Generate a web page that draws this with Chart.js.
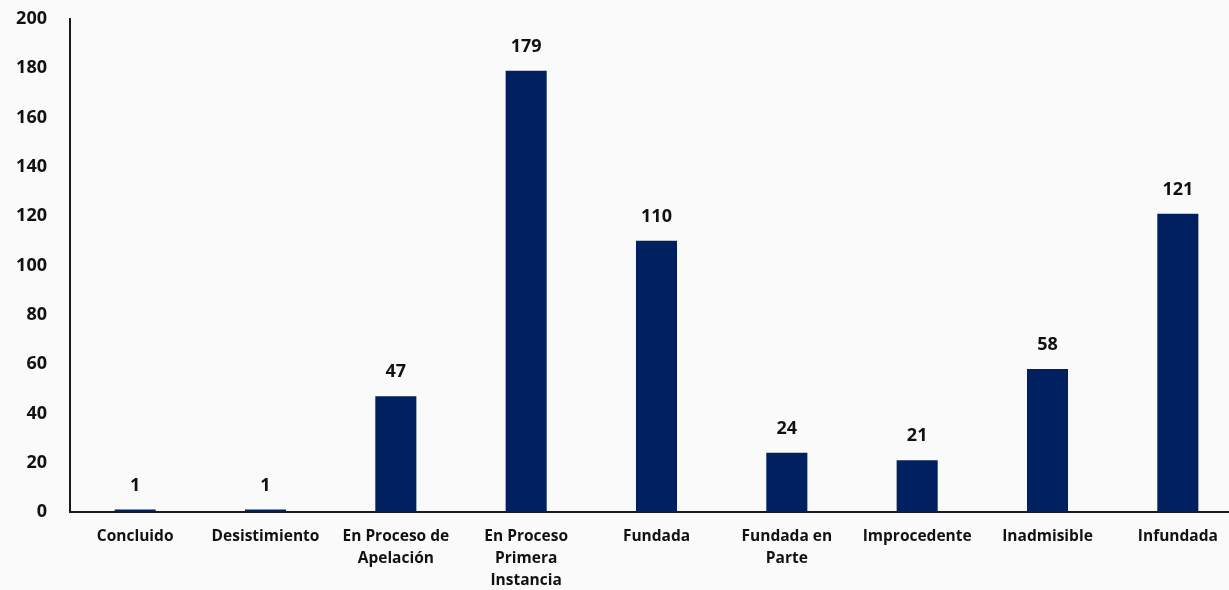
<!DOCTYPE html>
<html lang="es">
<head>
    <meta charset="UTF-8" />
    <title>Estado de casos</title>
    <script src="https://cdn.jsdelivr.net/npm/chart.js"></script>
    <style>
        html, body { margin: 0; padding: 0; background: #fafafa; overflow: hidden; }
        #wrap { width: 1243px; height: 590px; position: relative; }
    </style>
</head>
<body>
<div id="wrap"><canvas id="casosChart"></canvas></div>
<script>
    // categories (multi-line where the reference wraps)
    const categorias = [
        'Concluido',
        'Desistimiento',
        ['En Proceso de', 'Apelación'],
        ['En Proceso', 'Primera', 'Instancia'],
        'Fundada',
        ['Fundada en', 'Parte'],
        'Improcedente',
        'Inadmisible',
        'Infundada'
    ];
    const cantidades = [1, 1, 47, 179, 110, 24, 21, 58, 121];
    const yTicks = [0, 20, 40, 60, 80, 100, 120, 140, 160, 180, 200];

    const fontFamily = "'Open Sans', 'Lato', sans-serif";

    // value labels above each bar
    const valueLabels = {
        id: 'valueLabels',
        afterDatasetsDraw(chart) {
            const ctx = chart.ctx;
            const meta = chart.getDatasetMeta(0);
            ctx.save();
            ctx.font = 'bold 18px ' + fontFamily;
            ctx.fillStyle = '#111';
            ctx.textAlign = 'center';
            ctx.textBaseline = 'middle';
            meta.data.forEach((bar, i) => {
                ctx.fillText(String(cantidades[i]), bar.x, bar.y - 24);
            });
            ctx.restore();
        }
    };

    new Chart(document.getElementById('casosChart'), {
        type: 'bar',
        data: {
            labels: categorias,
            datasets: [{
                data: cantidades,
                backgroundColor: '#00205F',
                borderWidth: 0,
                barPercentage: 0.315,
                categoryPercentage: 1
            }]
        },
        options: {
            responsive: true,
            maintainAspectRatio: false,
            animation: false,
            layout: { padding: { top: 19, left: 0, right: 0, bottom: 0 } },
            plugins: {
                legend: { display: false },
                tooltip: { enabled: false }
            },
            scales: {
                x: {
                    grid: { display: false, drawTicks: false },
                    border: { display: true, color: '#1a1a1a', width: 2 },
                    ticks: {
                        color: '#111',
                        font: { family: fontFamily, size: 15.5, weight: 'bold', lineHeight: 1.42 },
                        padding: 14,
                        maxRotation: 0,
                        autoSkip: false
                    },
                    afterFit: s => { s.height = 78; }
                },
                y: {
                    min: 0,
                    max: 200,
                    afterBuildTicks: s => { s.ticks = yTicks.map(v => ({ value: v })); },
                    grid: { display: false, drawTicks: false },
                    border: { display: true, color: '#1a1a1a', width: 2 },
                    ticks: {
                        color: '#111',
                        font: { family: fontFamily, size: 18, weight: 'bold' },
                        padding: 23
                    },
                    // fixed axis width, and no extra room above the 200 label
                    afterFit: s => { s.width = 70; s.paddingTop = 0; s.paddingBottom = 0; }
                }
            }
        },
        plugins: [valueLabels]
    });
</script>
</body>
</html>
